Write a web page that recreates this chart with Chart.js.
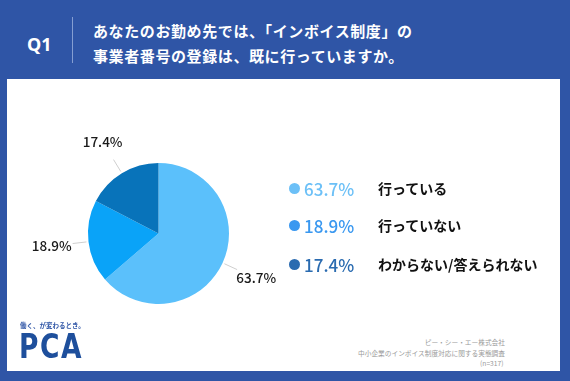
<!DOCTYPE html>
<html><head><meta charset="utf-8">
<script src="https://cdn.jsdelivr.net/npm/chart.js@4.4.1/dist/chart.umd.min.js"></script>
<style>
html,body{margin:0;padding:0;}
body{width:570px;height:381px;background:#2F55A6;position:relative;overflow:hidden;font-family:"Noto Sans CJK JP","Noto Sans",sans-serif;}
#card{position:absolute;left:7px;top:79px;width:553px;height:292px;background:#fff;}
#q{position:absolute;left:27px;top:32px;color:#fff;font-size:18px;font-weight:700;font-family:"Noto Sans","Noto Sans CJK JP",sans-serif;}
#sep{position:absolute;left:72px;top:17px;width:1px;height:46px;background:rgba(170,190,230,0.7);}
#title{position:absolute;left:93px;top:18px;color:#fff;font-size:15px;font-weight:700;line-height:25px;letter-spacing:0.6px;}
#wrap{position:absolute;left:8px;top:83px;width:301px;height:301px;}
#legend{position:absolute;left:0;top:0;}
.row{position:absolute;white-space:nowrap;}
.dot{position:absolute;width:11px;height:11px;border-radius:50%;}
.pct{position:absolute;font-size:17px;font-weight:500;font-family:"Noto Sans CJK JP",sans-serif;}
.lab{position:absolute;font-size:14px;font-weight:700;color:#111;}
#tag{position:absolute;left:20px;top:320px;color:#2F55A6;font-size:6.5px;font-weight:700;white-space:nowrap;}
#logo{position:absolute;left:19px;top:329px;color:#1E4F9C;font-size:34px;font-weight:700;letter-spacing:2px;font-family:"DejaVu Sans","Noto Sans",sans-serif;line-height:34px;transform:scaleX(0.78);transform-origin:0 0;}
#src{position:absolute;right:65px;top:337px;color:#9a9a9a;font-size:6.7px;line-height:10.5px;text-align:right;white-space:nowrap;}
</style></head><body>
<div id="card"></div>
<div id="q">Q1</div>
<div id="sep"></div>
<div id="title">あなたのお勤め先では、「インボイス制度」の<br>事業者番号の登録は、既に行っていますか。</div>
<div id="wrap"><canvas id="c" width="301" height="301"></canvas></div>
<div id="legend"></div>
<div id="tag">働く、が変わるとき。</div>
<div id="logo">PCA</div>
<div id="src">ピー・シー・エー株式会社<br>中小企業のインボイス制度対応に関する実態調査<br>(n=317)&nbsp;</div>
<script>
const categories = ["行っている", "行っていない", "わからない/答えられない"];
const values = [63.7, 18.9, 17.4];
const sliceColors = ["#5BC0FB", "#0AA3F8", "#0873BA"];
const legendColors = ["#6CC0F7", "#3A98F0", "#2A6BB0"];

const outsideLabels = {
  id: 'outsideLabels',
  afterDatasetsDraw(chart) {
    const ctx = chart.ctx;
    const meta = chart.getDatasetMeta(0);
    ctx.save();
    meta.data.forEach((arc, i) => {
      const p = arc.getProps(['x','y','startAngle','endAngle','outerRadius'], true);
      const mid = (p.startAngle + p.endAngle) / 2;
      const c = Math.cos(mid), s = Math.sin(mid);
      const r0 = p.outerRadius + 2, r1 = p.outerRadius + 16, rl = p.outerRadius + 37;
      ctx.strokeStyle = '#cfcfcf';
      ctx.lineWidth = 1;
      ctx.beginPath();
      ctx.moveTo(p.x + c * r0, p.y + s * r0);
      ctx.lineTo(p.x + c * r1, p.y + s * r1);
      ctx.stroke();
      ctx.fillStyle = '#1a1a1a';
      ctx.font = '500 13.5px "Noto Sans CJK JP", sans-serif';
      ctx.textAlign = 'center';
      ctx.textBaseline = 'middle';
      ctx.fillText(values[i].toFixed(1) + '%', p.x + c * rl, p.y + s * rl);
    });
    ctx.restore();
  }
};

new Chart(document.getElementById('c'), {
  type: 'pie',
  data: {
    labels: categories,
    datasets: [{
      data: values,
      backgroundColor: sliceColors,
      borderWidth: 0,
      radius: 70.5
    }]
  },
  options: {
    responsive: false,
    animation: false,
    plugins: { legend: { display: false }, tooltip: { enabled: false } }
  },
  plugins: [outsideLabels]
});

const lg = document.getElementById('legend');
const rowsY = [188.5, 225.5, 264.5];
categories.forEach((cat, i) => {
  const y = rowsY[i];
  const d = document.createElement('div');
  d.className = 'dot';
  d.style.left = (294 - 5.5) + 'px';
  d.style.top = (y - 5.5) + 'px';
  d.style.background = legendColors[i];
  lg.appendChild(d);
  const p = document.createElement('div');
  p.className = 'pct row';
  p.style.left = '304px';
  p.style.top = (y - 13) + 'px';
  p.style.color = legendColors[i];
  p.textContent = values[i].toFixed(1) + '%';
  lg.appendChild(p);
  const l = document.createElement('div');
  l.className = 'lab row';
  l.style.left = '378px';
  l.style.top = (y - 11) + 'px';
  l.textContent = cat;
  lg.appendChild(l);
});
</script>
</body></html>
